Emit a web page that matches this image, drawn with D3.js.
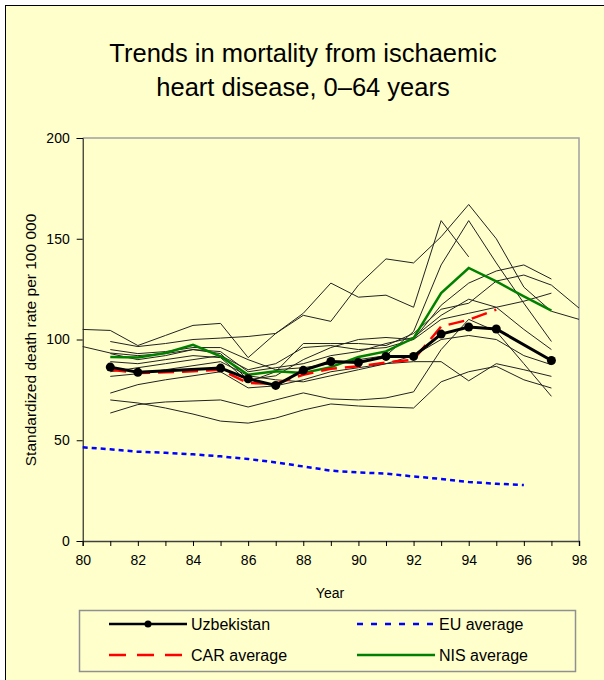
<!DOCTYPE html>
<html>
<head>
<meta charset="utf-8">
<script src="https://cdn.jsdelivr.net/npm/d3@7"></script>
<style>
  body { margin: 0; background: #fff; }
  svg text { font-family: "Liberation Sans", Arial, sans-serif; fill: #000; }
</style>
</head>
<body>
<script>
// chart data (null = no point that year)
var years = d3.range(80, 99);

var uzbekistan = [null, 86.3, 83.7, null, null, 85.8, 80.5, 77.2, 84.7, 89.1, 88.6, 91.6, 91.6, 102.7, 106.2, 105.2, null, 89.6, null];
var carAverage = [null, 85, 83.4, 83.7, 84.2, 85, 78.4, 78.1, 82.5, 85.5, 86.7, 88.6, 90, 106.5, 109.8, 114.8, null, null, null];
var nisAverage = [null, 91.3, 91.1, 93.3, 97.4, 91.6, 82.5, 84.2, 83.4, 86.3, 91.3, 94.1, 100.7, 123, 135.5, 128.8, 121.4, 114.3, null];
var euAverage = [46.5, 45.5, 44.3, 43.8, 43, 42, 40.7, 39, 37, 34.9, 34, 33.5, 32, 30.8, 29.3, 28.4, 27.8, null, null];

// the other countries of the region (thin lines)
var country1 = [105, 104.5, 97, 102, 107, 108, 91, 103, 113, 128, 121, 122, 116, 159, 141, null, null, null, null];
var country2 = [null, 99, 96.5, 98, 100, 100.7, 101.5, 103, 112, 109, 127, 140, 138, 151, 167, 150, 126, 114, 110];
var country3 = [null, 95, 93, 94, 96, 96, 90, 85, 86, 88, 90, 92, 104, 137, 159, 138, 118, 99, null];
var country4 = [null, 93, 90, 92, 95, 93, 80, 82, 90, 96, 100, 101, 100, 117, 128, 134, 137, 130, null];
var country5 = [null, 89, 88, 90, 92, 91, 79, 84, 98, 98, 98, 97, 103, 115, 118, 129, 132, 127, 115.6];
var country6 = [null, 84, 86, 88, 90, 92, 85, 88, 96, 97, 95, 96, 100, 110, 113, 116, 119, 123, null];
var country7 = [null, 81.7, 83, 85, 87, 89, 82, 80, 79, 82, 85, 88, 92, 100, 102, 100, 92, 87.5, null];
var country8 = [null, 73.4, 77.6, 80, 82, 84, 76, 77, 80, 84, 86, 88, 89, 89, 79.5, 88, 85, 81.7, null];
var country9 = [null, 70, 68.5, 66, 63, 59.5, 58.5, 61, 65, 68, 67, 66.5, 66, 79, 84, 86.7, 80, 75.9, null];
var country10 = [null, 63.5, 67.7, 69, 69.5, 70, 66.5, 70, 73.5, 70.5, 70, 71, 74, 95, 110, 104, 88, 71.8, null];
var country11 = [96.5, 93.3, 92, 93, 95, 94, 84, 86, 88, 92, 94, 98, 101, 112, 120, 116, 105, 95, null];

var yTicks = [0, 50, 100, 150, 200];
var legendLabels = ['Uzbekistan', 'EU average', 'CAR average', 'NIS average'];

var width = 604;
var height = 680;

var svg = d3.select('body').append('svg')
  .attr('width', width)
  .attr('height', height);

// slide frame
svg.append('rect')
  .attr('x', 5.5).attr('y', 5.5)
  .attr('width', 700).attr('height', 800)
  .attr('fill', '#FFFFCC')
  .attr('stroke', '#000');

svg.append('text')
  .attr('x', 303).attr('y', 62)
  .attr('text-anchor', 'middle')
  .style('font-size', '25.5px')
  .text('Trends in mortality from ischaemic');
svg.append('text')
  .attr('x', 303).attr('y', 96)
  .attr('text-anchor', 'middle')
  .style('font-size', '25.5px')
  .text('heart disease, 0\u201364 years');

var x = d3.scaleLinear().domain([80, 98]).range([82.7, 579]);
var y = d3.scaleLinear().domain([0, 200]).range([541, 138]);

// plot area border (grey top/right)
svg.append('path')
  .attr('d', 'M' + x(80) + ',' + y(200) + 'H' + x(98) + 'V' + y(0))
  .attr('fill', 'none')
  .attr('stroke', '#A0A0A0')
  .attr('stroke-width', 1.5);

var yAxis = svg.append('g')
  .attr('transform', 'translate(' + x(80) + ',0)')
  .call(d3.axisLeft(y).tickValues(yTicks).tickSize(6).tickPadding(7));
yAxis.selectAll('text').style('font-size', '14px');
yAxis.selectAll('line, path').attr('stroke', '#000');

var xAxis = svg.append('g')
  .attr('transform', 'translate(0,' + y(0) + ')')
  .call(d3.axisBottom(x).tickValues(years).tickSize(5).tickPadding(9)
    .tickFormat(function(d) { return d % 2 === 0 ? d : ''; }));
xAxis.selectAll('text').style('font-size', '14px');
xAxis.select('.domain').attr('stroke', '#404040').attr('stroke-width', 1.5);
xAxis.selectAll('.tick line').attr('stroke', '#000');

svg.append('text')
  .attr('x', 330).attr('y', 598)
  .attr('text-anchor', 'middle')
  .style('font-size', '14px')
  .text('Year');

svg.append('text')
  .attr('transform', 'translate(36,340) rotate(-90)')
  .attr('text-anchor', 'middle')
  .style('font-size', '15.5px')
  .text('Standardized death rate per 100 000');

// turn a series into points, skipping missing years
var points = function(values) {
  return values.map(function(v, i) { return { year: years[i], value: v }; })
    .filter(function(d) { return d.value !== null; });
};

var line = d3.line()
  .x(function(d) { return x(d.year); })
  .y(function(d) { return y(d.value); });

var countries = [country1, country2, country3, country4, country5, country6,
  country7, country8, country9, country10, country11];

svg.append('g').selectAll('path')
  .data(countries)
  .enter().append('path')
  .attr('d', function(d) { return line(points(d)); })
  .attr('fill', 'none')
  .attr('stroke', '#222')
  .attr('stroke-width', 1);

var series = [
  { values: euAverage, color: '#0000FF', width: 2.5, dash: '5,4' },
  { values: nisAverage, color: '#008000', width: 2.5, dash: null },
  { values: carAverage, color: '#FF0000', width: 2.5, dash: '16,8' },
  { values: uzbekistan, color: '#000', width: 3, dash: null }
];

svg.append('g').selectAll('path')
  .data(series)
  .enter().append('path')
  .attr('d', function(d) { return line(points(d.values)); })
  .attr('fill', 'none')
  .attr('stroke', function(d) { return d.color; })
  .attr('stroke-width', function(d) { return d.width; })
  .attr('stroke-dasharray', function(d) { return d.dash; });

svg.append('g').selectAll('circle')
  .data(points(uzbekistan))
  .enter().append('circle')
  .attr('cx', function(d) { return x(d.year); })
  .attr('cy', function(d) { return y(d.value); })
  .attr('r', 4.5)
  .attr('fill', '#000');

// legend
var legend = svg.append('g');
legend.append('rect')
  .attr('x', 79.5).attr('y', 610.5)
  .attr('width', 496).attr('height', 61)
  .attr('fill', '#FFFFCC')
  .attr('stroke', '#909090')
  .attr('stroke-width', 1.5);

var legendItems = [
  { label: legendLabels[0], color: '#000', width: 2.5, dash: null, lx: 109, ly: 624, dot: true },
  { label: legendLabels[1], color: '#0000FF', width: 2.5, dash: '6,8', lx: 357, ly: 624, dot: false },
  { label: legendLabels[2], color: '#FF0000', width: 2.5, dash: '17,11', lx: 109, ly: 655, dot: false },
  { label: legendLabels[3], color: '#008000', width: 2.5, dash: null, lx: 357, ly: 655, dot: false }
];

var item = legend.selectAll('g.item')
  .data(legendItems)
  .enter().append('g')
  .attr('class', 'item');

item.append('line')
  .attr('x1', function(d) { return d.lx; })
  .attr('x2', function(d) { return d.lx + 78; })
  .attr('y1', function(d) { return d.ly; })
  .attr('y2', function(d) { return d.ly; })
  .attr('stroke', function(d) { return d.color; })
  .attr('stroke-width', function(d) { return d.width; })
  .attr('stroke-dasharray', function(d) { return d.dash; });

item.filter(function(d) { return d.dot; }).append('circle')
  .attr('cx', function(d) { return d.lx + 39; })
  .attr('cy', function(d) { return d.ly; })
  .attr('r', 3.5)
  .attr('fill', '#000');

item.append('text')
  .attr('x', function(d) { return d.lx + 82; })
  .attr('y', function(d) { return d.ly + 6; })
  .style('font-size', '16px')
  .text(function(d) { return d.label; });
</script>
</body>
</html>
